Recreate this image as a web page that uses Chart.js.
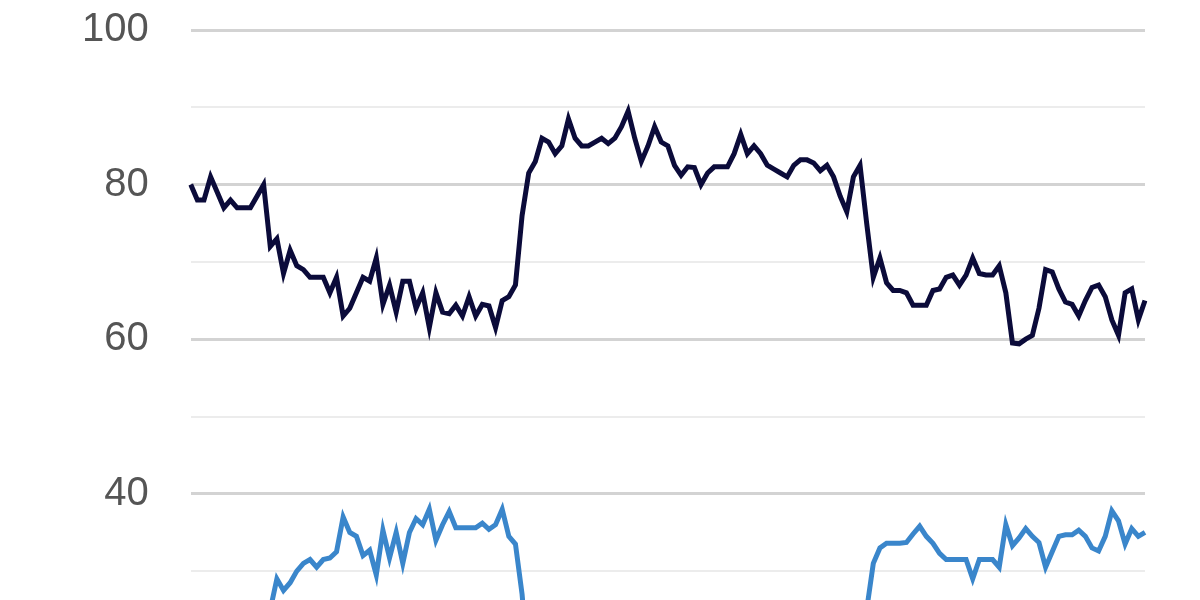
<!DOCTYPE html>
<html>
<head>
<meta charset="utf-8">
<script src="https://cdn.jsdelivr.net/npm/chart.js@4/dist/chart.umd.min.js"></script>
<style>
    html, body { margin: 0; padding: 0; overflow: hidden; background: #fff; }
    #wrap { width: 1200px; height: 600px; overflow: hidden; }
    #chart { display: block; margin-top: -36px; }
</style>
</head>
<body>
<div id="wrap"><canvas id="chart" width="1200" height="905"></canvas></div>
<script>
// Values (one point per period)
const darkSeries = [
    80, 78, 78, 81, 79, 77, 78, 77, 77, 77,
    78.5, 80, 72, 73, 68.5, 71.5, 69.5, 69, 68, 68,
    68, 66, 68, 63, 64, 66, 68, 67.5, 70.5, 64.5,
    67, 63.5, 67.5, 67.5, 64, 66, 61.5, 66, 63.5, 63.3,
    64.4, 63, 65.5, 63, 64.5, 64.3, 61.5, 65, 65.5, 67,
    76, 81.5, 83, 86, 85.5, 84, 85, 88.5, 86, 85,
    85, 85.5, 86, 85.3, 86, 87.5, 89.5, 86, 83, 85,
    87.5, 85.5, 85, 82.5, 81.2, 82.3, 82.2, 80, 81.5, 82.3,
    82.3, 82.3, 84, 86.5, 84, 85, 84, 82.5, 82, 81.5,
    81, 82.5, 83.2, 83.2, 82.8, 81.8, 82.5, 81, 78.5, 76.5,
    81, 82.5, 75, 68, 70.5, 67.3, 66.3, 66.3, 66, 64.4,
    64.4, 64.4, 66.3, 66.5, 68, 68.3, 67, 68.3, 70.5, 68.5,
    68.3, 68.3, 69.5, 66, 59.5, 59.4, 60, 60.5, 64, 69,
    68.7, 66.5, 64.8, 64.5, 63, 65, 66.7, 67, 65.5, 62.5,
    60.5, 66, 66.5, 62.5, 65
];

const lightSeries = [
    20, 21, 21, 19, 20, 22, 21, 22, 22, 22,
    21, 19, 25, 29, 27.5, 28.5, 30, 31, 31.5, 30.5,
    31.5, 31.7, 32.5, 37, 35, 34.5, 32, 32.7, 29.5, 35.3,
    31.7, 35, 31, 35, 36.8, 36, 38, 34, 36, 37.7,
    35.6, 35.6, 35.6, 35.6, 36.2, 35.4, 36, 38, 34.5, 33.5,
    27, 17, 16, 13, 14, 15, 14, 11, 13, 14,
    14, 13, 13, 14, 13, 12, 10, 13, 16, 14,
    12, 13, 14, 16, 18, 16, 17, 19, 17, 16,
    16, 16, 15, 12, 15, 14, 15, 16, 17, 18,
    18, 16, 15, 16, 16, 17, 16, 18, 20, 22,
    18, 16, 25, 31, 33, 33.6, 33.6, 33.6, 33.7, 34.8,
    35.8, 34.5, 33.6, 32.3, 31.5, 31.5, 31.5, 31.5, 29, 31.5,
    31.5, 31.5, 30.5, 36, 33.3, 34.3, 35.5, 34.5, 33.7, 30.5,
    32.5, 34.5, 34.7, 34.7, 35.3, 34.5, 33, 32.6, 34.5, 37.8,
    36.5, 33.5, 35.5, 34.5, 35
];

const periods = darkSeries.map((_, i) => i + 1);

const yMin = 0;
const yMax = 100;
const yStep = 10;
const labelStep = 20;

const ctx = document.getElementById('chart').getContext('2d');

new Chart(ctx, {
    type: 'line',
    data: {
        labels: periods,
        datasets: [{
            data: darkSeries,
            borderColor: '#0b0b3a',
            borderWidth: 5,
            pointRadius: 0,
            fill: false
        }, {
            data: lightSeries,
            borderColor: '#3a86cb',
            borderWidth: 5,
            pointRadius: 0,
            fill: false
        }]
    },
    options: {
        responsive: false,
        animation: false,
        layout: {
            autoPadding: false,
            padding: { left: 40, right: 55, top: 29, bottom: 26 }
        },
        plugins: {
            legend: { display: false },
            tooltip: { enabled: false }
        },
        elements: {
            line: { tension: 0, borderJoinStyle: 'miter' }
        },
        scales: {
            x: { display: false },
            y: {
                min: yMin,
                max: yMax,
                border: { display: false },
                grid: {
                    drawTicks: false,
                    color: c => c.tick.value % labelStep === 0 ? '#d3d3d3' : '#ececec',
                    lineWidth: c => c.tick.value % labelStep === 0 ? 3 : 2
                },
                ticks: {
                    stepSize: yStep,
                    padding: 42,
                    color: '#555',
                    font: { family: '"Liberation Sans", Arial, sans-serif', size: 40 },
                    callback: v => v % labelStep === 0 ? v : ''
                }
            }
        }
    }
});
</script>
</body>
</html>
